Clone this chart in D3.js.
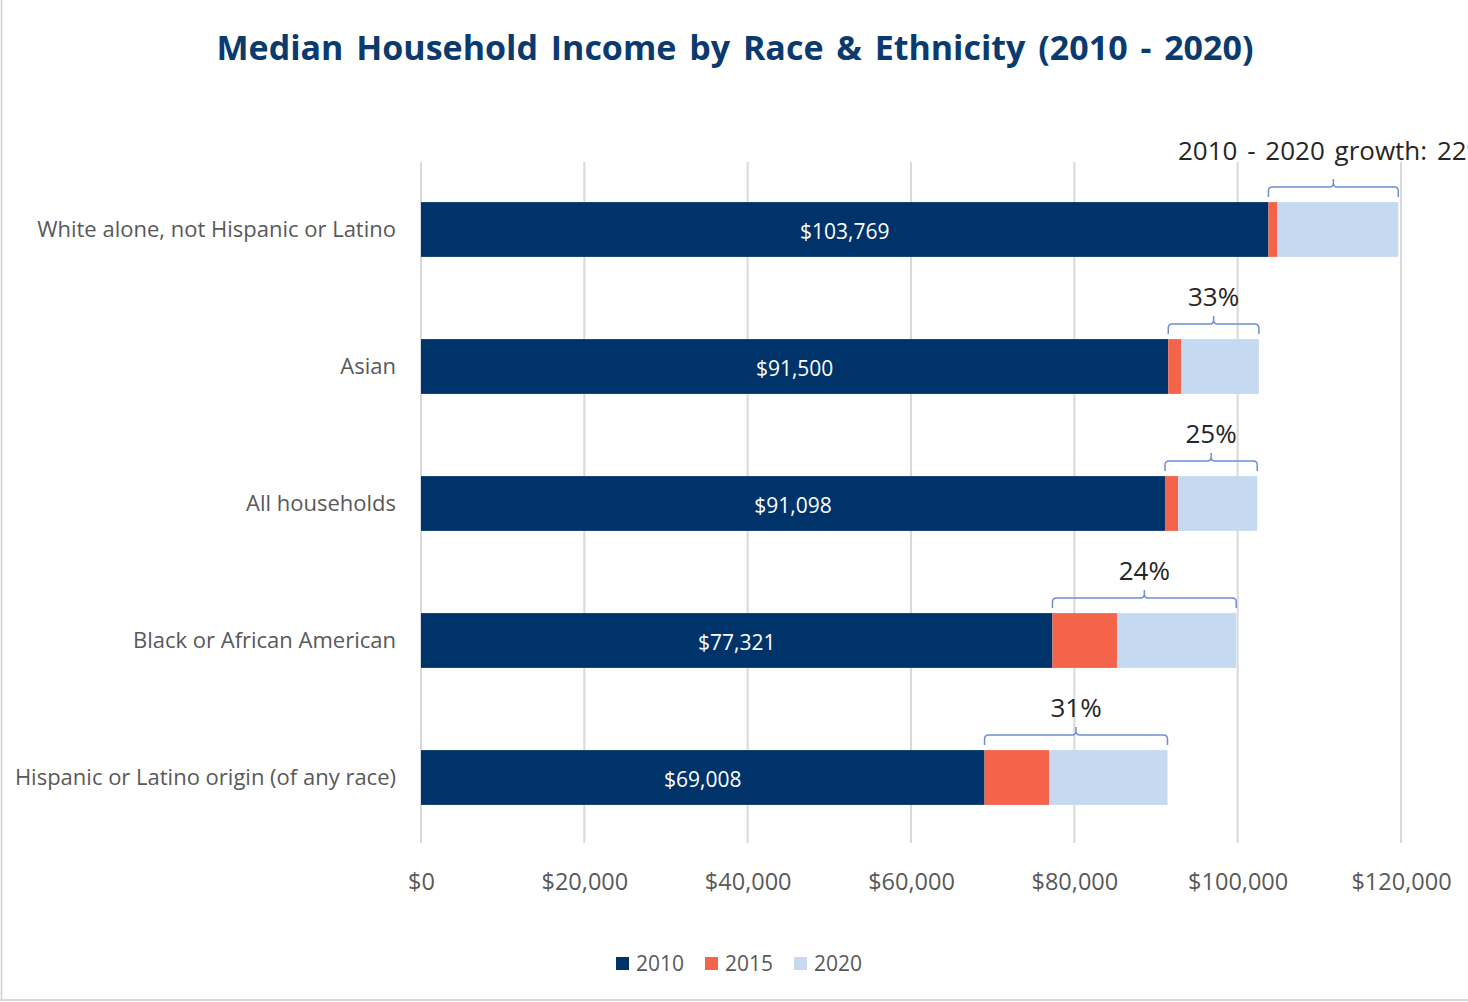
<!DOCTYPE html>
<html>
<head>
<meta charset="utf-8">
<script src="https://cdn.jsdelivr.net/npm/d3@7/dist/d3.min.js"></script>
<style>
  html, body { margin: 0; padding: 0; background: #fff; }
  svg { display: block; }
  text { font-family: "Open Sans", "Noto Sans", sans-serif; }
</style>
</head>
<body>
<svg id="chart" width="1468" height="1002"></svg>
<script>
// Categories, top to bottom
const categories = [
  "White alone, not Hispanic or Latino",
  "Asian",
  "All households",
  "Black or African American",
  "Hispanic or Latino origin (of any race)"
];
// Stacked segments: 2010 median, then the added amount up to 2015, then up to 2020
const income2010 = [103769, 91500, 91098, 77321, 69008];
const gain2015   = [1100, 1600, 1600, 7900, 7900];
const gain2020   = [14800, 9500, 9700, 14600, 14500];
const growthLabels = ["2010 - 2020 growth: 22%", "33%", "25%", "24%", "31%"];
const seriesNames = ["2010", "2015", "2020"];
const xTicks = [0, 20000, 40000, 60000, 80000, 100000, 120000];

const colors = { "2010": "#003369", "2015": "#f4644a", "2020": "#c5daf0" };

const svg = d3.select("#chart");
const W = 1468, H = 1002;

// Frame lines on the left and bottom edges
svg.append("line").attr("x1", 1.5).attr("x2", 1.5).attr("y1", 0).attr("y2", H - 2)
  .attr("stroke", "#d0d0d0").attr("stroke-width", 1.5);
svg.append("line").attr("x1", 0).attr("x2", W).attr("y1", H - 2).attr("y2", H - 2)
  .attr("stroke", "#d9d9d9").attr("stroke-width", 2);

// Title
svg.append("text")
  .attr("x", 735).attr("y", 60)
  .attr("text-anchor", "middle")
  .attr("font-size", 34).attr("font-weight", 700)
  .attr("word-spacing", 4)
  .attr("fill", "#0b3a6e")
  .text("Median Household Income by Race & Ethnicity (2010 - 2020)");

const x = d3.scaleLinear().domain([0, 120000]).range([421, 1401]);
const y = d3.scaleBand().domain(categories).range([161, 846])
  .paddingInner(0.6).paddingOuter(0.3);

// Vertical gridlines
const grid = svg.append("g").attr("class", "grid");
grid.selectAll("line").data(xTicks).join("line")
  .attr("x1", d => x(d)).attr("x2", d => x(d))
  .attr("y1", 162).attr("y2", 843)
  .attr("stroke", "#d9d9d9").attr("stroke-width", 2);

// X axis labels
const xAxis = d3.axisBottom(x).tickValues(xTicks)
  .tickFormat(d => "$" + d3.format(",")(d)).tickSize(0).tickPadding(0);
const gx = svg.append("g").attr("transform", "translate(0,873)").call(xAxis);
gx.select(".domain").remove();
gx.selectAll("text").attr("font-size", 23.5).attr("fill", "#595959")
  .attr("font-family", "'Open Sans', sans-serif");

// Category labels
const yAxis = d3.axisLeft(y).tickSize(0).tickPadding(0);
const gy = svg.append("g").attr("transform", "translate(396,0)").call(yAxis);
gy.select(".domain").remove();
gy.selectAll("text").attr("font-size", 22).attr("fill", "#595959")
  .attr("font-family", "'Open Sans', sans-serif");

// Stacked bars
const rows = categories.map((c, i) => ({
  cat: c, "2010": income2010[i], "2015": gain2015[i], "2020": gain2020[i]
}));
const stack = d3.stack().keys(seriesNames)(rows);

svg.append("g").selectAll("g").data(stack).join("g")
  .attr("fill", s => colors[s.key])
  .selectAll("rect").data(s => s).join("rect")
  .attr("x", d => x(d[0]))
  .attr("width", d => x(d[1]) - x(d[0]))
  .attr("y", d => y(d.data.cat))
  .attr("height", y.bandwidth());

// Value labels inside the 2010 segment
svg.append("g").selectAll("text").data(rows).join("text")
  .attr("x", d => (x(0) + x(d["2010"])) / 2)
  .attr("y", d => y(d.cat) + y.bandwidth() / 2 + 2)
  .attr("dy", "0.35em")
  .attr("text-anchor", "middle")
  .attr("font-size", 21).attr("fill", "#ffffff")
  .text(d => "$" + d3.format(",")(d["2010"]));

// Growth brackets spanning the 2015 and 2020 additions
const bracketColor = "#6d8fd2";
const br = svg.append("g");
rows.forEach((d, i) => {
  const x0 = x(d["2010"]);
  const x1 = x(d["2010"] + d["2015"] + d["2020"]);
  const top = y(d.cat);
  const yl = top - 15, yt = top - 5, ym = (x0 + x1) / 2, r = 4;
  const path = `M${x0},${yt} L${x0},${yl + r} Q${x0},${yl} ${x0 + r},${yl}`
    + ` L${ym - r},${yl} Q${ym},${yl} ${ym},${yl - r} L${ym},${yl - 8}`
    + ` M${ym},${yl - r} Q${ym},${yl} ${ym + r},${yl}`
    + ` L${x1 - r},${yl} Q${x1},${yl} ${x1},${yl + r} L${x1},${yt}`;
  br.append("path").attr("d", path).attr("fill", "none")
    .attr("stroke", bracketColor).attr("stroke-width", 1.5);
  br.append("text")
    .attr("x", i === 0 ? 1178 : ym).attr("y", i === 0 ? top - 42 : top - 33)
    .attr("text-anchor", i === 0 ? "start" : "middle")
    .attr("word-spacing", i === 0 ? 3 : 0)
    .attr("font-size", 26).attr("fill", "#262626")
    .text(growthLabels[i]);
});

// Legend
const legendItems = [
  { key: "2010", x: 616 },
  { key: "2015", x: 705 },
  { key: "2020", x: 794 }
];
const lg = svg.append("g");
lg.selectAll("rect").data(legendItems).join("rect")
  .attr("x", d => d.x).attr("y", 957).attr("width", 13).attr("height", 13)
  .attr("fill", d => colors[d.key]);
lg.selectAll("text").data(legendItems).join("text")
  .attr("x", d => d.x + 20).attr("y", 964).attr("dy", "0.35em")
  .attr("font-size", 21).attr("fill", "#595959")
  .text(d => d.key);
</script>
</body>
</html>
